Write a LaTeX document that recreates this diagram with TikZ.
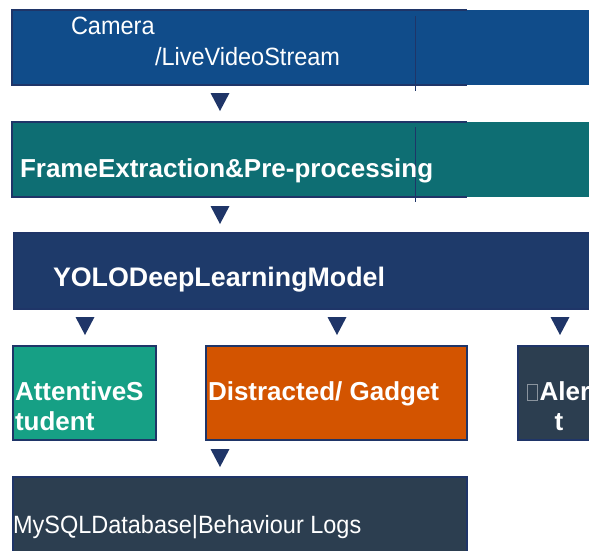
\documentclass[tikz,border=0pt]{standalone}
\usepackage{fontspec}
\setmainfont{Liberation Sans}
\newfontfamily\narrowfont{Liberation Sans}[FakeStretch=0.94]
\usepackage{tikz}
\usetikzlibrary{positioning}
\definecolor{Cam-blue}{HTML}{104C8A}
\definecolor{Frame-teal}{HTML}{0E6E73}
\definecolor{Yolo-navy}{HTML}{1E3A6A}
\definecolor{Att-green}{HTML}{16A085}
\definecolor{Dis-orange}{HTML}{D35400}
\definecolor{Slate}{HTML}{2C3E50}
\definecolor{Edge-navy}{HTML}{1F3568}
\definecolor{Tofu-gray}{HTML}{8A949E}
\tikzstyle{box}=[rectangle,draw=Edge-navy,line width=1.3pt,anchor=north west,inner sep=0pt,outer sep=0pt]
\tikzstyle{band}=[box,draw=none]
\tikzstyle{rim}=[draw=Edge-navy,line width=1.3pt]
\tikzstyle{t}=[text=white,inner sep=0pt,outer sep=0pt,anchor=base west,font=\narrowfont\fontsize{25}{30}\selectfont]
\tikzstyle{tb}=[t,font=\bfseries\fontsize{26}{30}\selectfont]
\tikzstyle{tip}=[fill=Edge-navy]
\newcommand{\tofubox}{{\color{Tofu-gray}\setlength{\fboxsep}{0pt}\setlength{\fboxrule}{0.8pt}\fbox{\rule{0pt}{15pt}\hspace{9.5pt}}}\hspace{1.5pt}}

\begin{document}
\begin{tikzpicture}[x=1pt,y=-1pt]
    \useasboundingbox (0,0) rectangle (589,550);
    \clip (0,0) rectangle (589,550);

    % stages
    \node[band,fill=Cam-blue,minimum width=590pt,minimum height=75pt]   (camera) at (12,10)  {};
    \coordinate (camera_ne) at (467,10);
    \coordinate (camera_se) at (467,85);
    \draw[rim] (camera_ne) -- (camera.north west) -- (camera.south west) -- (camera_se);

    \node[band,fill=Frame-teal,minimum width=590pt,minimum height=75pt] (frame) at (12,122)  {};
    \coordinate (frame_ne) at (467,122);
    \coordinate (frame_se) at (467,197);
    \draw[rim] (frame_ne) -- (frame.north west) -- (frame.south west) -- (frame_se);

    \node[box,fill=Yolo-navy,minimum width=590pt,minimum height=76pt]   (yolo) at (14,233)   {};

    \node[box,fill=Att-green,minimum width=143pt,minimum height=94pt]   (attentive) at (13,346)    {};
    \node[box,fill=Dis-orange,minimum width=261pt,minimum height=94pt]  (distracted) at (206,346)  {};
    \node[box,fill=Slate,minimum width=84pt,minimum height=94pt]        (alert) at (518,346)       {};

    \node[box,fill=Slate,minimum width=454pt,minimum height=90pt]       (mysql) at (13,477)        {};

    \draw[Edge-navy,line width=1pt] (415,16) -- (415,91);
    \draw[Edge-navy,line width=1pt] (415,127) -- (415,202);

    % labels
    \node[t]  (camera_txt) at (71,34)  {Camera};
    \node[t]  (stream_txt) at (155,65) {/LiveVideoStream};
    \node[tb] (frame_txt)  at (20,177) {FrameExtraction\&Pre-processing};
    \node[tb,font=\bfseries\fontsize{26.8}{30}\selectfont] (yolo_txt) at (53,286) {YOLODeepLearningModel};
    \node[tb] (att_txt)    at (15,400) {AttentiveS};
    \node[tb] (att_txt2)   at (15,430) {tudent};
    \node[tb] (dis_txt)    at (208,400) {Distracted/ Gadget};
    \node[tb] (alert_txt)  at (527,400) {\tofubox Aler};
    \node[tb,anchor=base] (alert_txt2) at (559,430) {t};
    \node[t]  (mysql_txt)  at (13,533) {MySQLDatabase|Behaviour Logs};

    % down arrows
    \foreach \cx/\cy in {220/93, 220/206, 85/317, 337/317, 560/317, 220/449}
        \fill[tip] (\cx,\cy) ++(-9.5,0) -- ++(19,0) -- ++(-9.5,18) -- cycle;

\end{tikzpicture}
\end{document}
